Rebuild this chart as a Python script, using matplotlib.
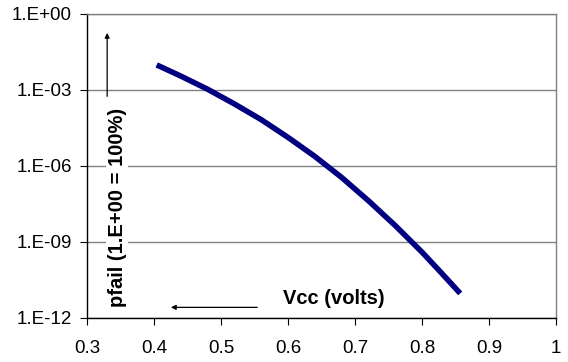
import numpy as np
import matplotlib
matplotlib.use("Agg")
import matplotlib.pyplot as plt

vcc = [0.404, 0.44, 0.48, 0.52, 0.56, 0.60, 0.64, 0.68, 0.72, 0.76, 0.80, 0.83, 0.857]
log_pfail = [-2.01, -2.45, -2.97, -3.55, -4.17, -4.87, -5.62, -6.45, -7.37, -8.35, -9.40, -10.25, -11.03]
pfail = [10 ** v for v in log_pfail]

x_ticks = [0.3, 0.4, 0.5, 0.6, 0.7, 0.8, 0.9, 1.0]
x_labels = ["0.3", "0.4", "0.5", "0.6", "0.7", "0.8", "0.9", "1"]
y_ticks = [1e-12, 1e-9, 1e-6, 1e-3, 1e0]
y_labels = ["1.E-12", "1.E-09", "1.E-06", "1.E-03", "1.E+00"]

fig = plt.figure(figsize=(5.68, 3.62), dpi=100)
ax = fig.add_axes([87/568, 1-318/362, (556-87)/568, (318-14)/362])

ax.plot(vcc, pfail, color="#000080", lw=4.0, solid_capstyle="butt", solid_joinstyle="round")
ax.set_yscale("log")
ax.set_xlim(0.3, 1.0)
ax.set_ylim(1e-12, 1e0)
ax.set_xticks(x_ticks)
ax.set_xticklabels(x_labels)
ax.set_yticks(y_ticks)
ax.set_yticklabels(y_labels)
ax.yaxis.set_minor_locator(matplotlib.ticker.NullLocator())
ax.xaxis.set_minor_locator(matplotlib.ticker.NullLocator())
ax.tick_params(axis="both", direction="out", length=5, width=0.8, color="black",
               labelsize=13.5, labelfontfamily="Liberation Sans")
ax.tick_params(axis="x", pad=11)
ax.tick_params(axis="y", pad=6)
ax.grid(axis="y", color="#808080", lw=1.0)
ax.set_axisbelow(True)
for s in ["top", "right"]:
    ax.spines[s].set_color("#808080")
    ax.spines[s].set_linewidth(1.0)
for s in ["left", "bottom"]:
    ax.spines[s].set_color("black")
    ax.spines[s].set_linewidth(1.0)

ax.annotate("", xy=(0.043, 0.947), xytext=(0.043, 0.72), xycoords="axes fraction",
            arrowprops=dict(arrowstyle="-|>", color="black", lw=0.9, mutation_scale=7))
ax.annotate("", xy=(0.173, 0.035), xytext=(0.369, 0.035), xycoords="axes fraction",
            arrowprops=dict(arrowstyle="-|>", color="black", lw=0.9, mutation_scale=7))
ax.text(0.064, 0.363, "pfail (1.E+00 = 100%)", transform=ax.transAxes, rotation=90,
        ha="center", va="center", fontsize=14.5, fontweight="bold", family="Liberation Sans",
        bbox=dict(facecolor="white", edgecolor="none", pad=1))
ax.text(0.526, 0.0625, "Vcc (volts)", transform=ax.transAxes, ha="center", va="center",
        fontsize=14.5, fontweight="bold", family="Liberation Sans")

fig.savefig("out.png", dpi=100)
